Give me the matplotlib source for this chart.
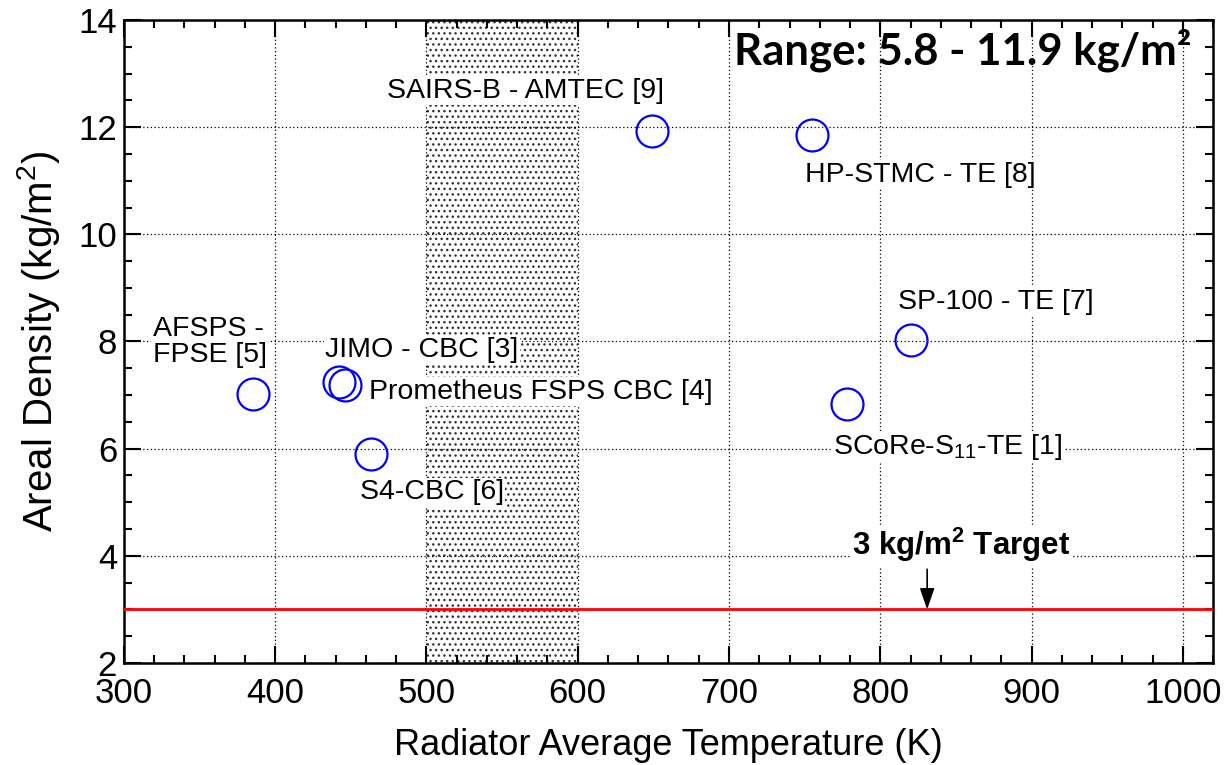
import matplotlib
matplotlib.use("Agg")
import matplotlib.pyplot as plt
from matplotlib.ticker import MultipleLocator

plt.rcParams['font.family'] = ['Liberation Sans', 'DejaVu Sans']
plt.rcParams['mathtext.fontset'] = 'custom'
plt.rcParams['mathtext.rm'] = 'Liberation Sans'
plt.rcParams['mathtext.it'] = 'Liberation Sans:italic'
plt.rcParams['mathtext.bf'] = 'Liberation Sans:bold'
plt.rcParams['hatch.linewidth'] = 1.0
plt.rcParams['hatch.color'] = '#333333'

# Data
names = ["AFSPS -\nFPSE [5]", "JIMO - CBC [3]", "Prometheus FSPS CBC [4]", "S4-CBC [6]",
         "SAIRS-B - AMTEC [9]", "HP-STMC - TE [8]", "SP-100 - TE [7]", "SCoRe-S$_{11}$-TE [1]"]
temps = [385, 442, 446, 463, 649, 755, 820, 778]
densities = [7.02, 7.25, 7.19, 5.9, 11.93, 11.86, 8.02, 6.84]
label_x = [319, 433, 462, 456, 474, 750, 812, 769]
label_y = [7.99, 7.84, 7.06, 5.19, 12.68, 11.11, 8.74, 6.03]
band = (500, 600)
target = 3.0
target_arrow_x = 831
xticks = [300, 400, 500, 600, 700, 800, 900, 1000]
yticks = [2, 4, 6, 8, 10, 12, 14]

fig = plt.figure(figsize=(12.31, 7.65), dpi=100)
ax = fig.add_axes([0.1007, 0.1333, 0.8847, 0.8406])

ax.axvspan(band[0], band[1], facecolor='white', edgecolor='#333333', hatch='...', linewidth=0, zorder=0.5)
ax.grid(True, which='major', color='black', linestyle=(0, (1, 2)), linewidth=0.9, zorder=1)
ax.set_axisbelow(False)

ax.axhline(target, color='red', linewidth=2, zorder=3)
ax.plot(temps, densities, linestyle='none', marker='o', markersize=23,
        markerfacecolor='none', markeredgecolor='blue', markeredgewidth=1.6, zorder=4)

for nm, lx, ly in zip(names, label_x, label_y):
    ax.text(lx, ly, nm, fontsize=20.5, ha='left', va='center', zorder=3.5, linespacing=1.0,
            bbox=dict(facecolor='white', edgecolor='none', pad=1))

ax.annotate('', xy=(target_arrow_x, target), xytext=(target_arrow_x, 3.75),
            arrowprops=dict(arrowstyle='-|>,head_length=1.3,head_width=0.45', color='black', lw=1.2,
                            shrinkA=0, shrinkB=0), zorder=5)
ax.text(781, 4.2, '3 kg/m$^\\mathbf{2}$ Target', fontsize=22.5, fontweight='bold', ha='left', va='center',
        zorder=5, bbox=dict(facecolor='white', edgecolor='none', pad=1))

ax.text(1006, 13.44, 'Range: 5.8 - 11.9 kg/m²', fontsize=31.5, fontweight='bold',
        family=['Lato', 'DejaVu Sans'], ha='right', va='center', zorder=5)

ax.set_xlim(300, 1020)
ax.set_ylim(2, 14)
ax.set_xticks(xticks)
ax.set_yticks(yticks)
ax.xaxis.set_minor_locator(MultipleLocator(20))
ax.yaxis.set_minor_locator(MultipleLocator(0.5))
ax.tick_params(which='both', direction='in', top=True, right=True, width=1.5, labelsize=25)
ax.tick_params(which='major', length=12)
ax.tick_params(axis='x', which='major', pad=10)
ax.tick_params(axis='y', which='major', pad=5)
ax.tick_params(which='minor', length=6)
for s in ax.spines.values():
    s.set_linewidth(1.8)

ax.set_xlabel('Radiator Average Temperature (K)', fontsize=26, labelpad=13)
ax.set_ylabel('Areal Density (kg/m$^2$)', fontsize=29, labelpad=12)

fig.savefig('out.png', dpi=100)
